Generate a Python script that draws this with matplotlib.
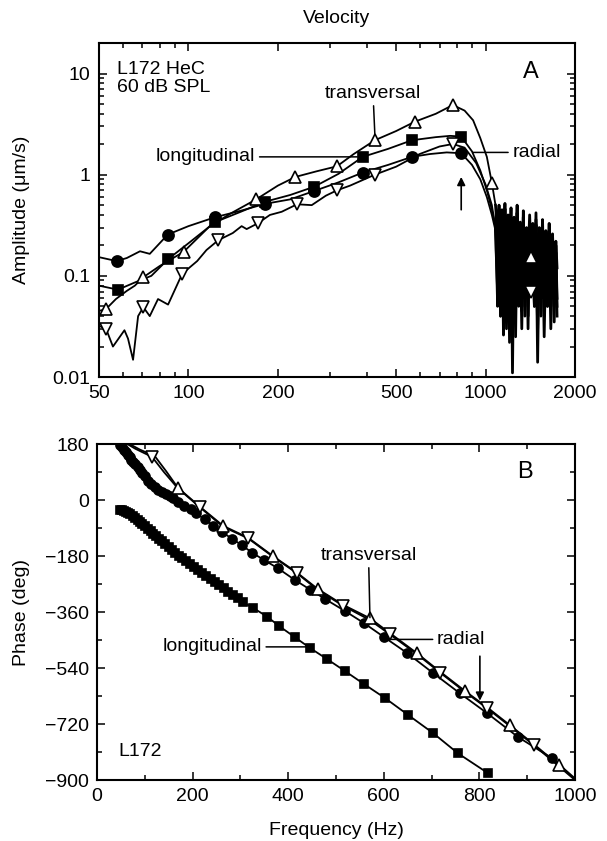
import numpy as np
import matplotlib
matplotlib.use("Agg")
import matplotlib.pyplot as plt
from matplotlib.ticker import FixedLocator, NullFormatter, LogLocator, MultipleLocator

plt.rcParams['font.family'] = ['Liberation Sans', 'DejaVu Sans']
plt.rcParams['font.size'] = 14

# ---------------- panel A: amplitude (log-log) ----------------
# filled circles
circ_f = [50, 57.3, 62, 68.7, 74.1, 85.2, 100, 123, 150, 181, 220, 265, 320, 386,
          470, 565, 650, 740, 828, 900, 960, 1010, 1050, 1080]
circ_a = [0.153, 0.140, 0.150, 0.175, 0.165, 0.256, 0.31, 0.38, 0.44, 0.515, 0.57,
          0.69, 0.84, 1.05, 1.25, 1.5, 1.6, 1.66, 1.63, 1.25, 0.9, 0.6, 0.4, 0.28]
circ_mf = [57.3, 85.2, 123, 181, 265, 386, 565, 828]
circ_ma = [0.140, 0.256, 0.38, 0.515, 0.69, 1.05, 1.5, 1.63]

# filled squares (longitudinal)
sq_f = [50, 57.9, 66, 75, 85.6, 100, 123, 150, 181, 220, 265, 320, 386, 470, 565,
        680, 760, 828, 900, 960, 1010, 1050, 1080]
sq_a = [0.080, 0.073, 0.086, 0.10, 0.147, 0.21, 0.34, 0.43, 0.54, 0.63, 0.76, 1.02,
        1.5, 1.8, 2.19, 2.35, 2.42, 2.38, 1.7, 1.1, 0.7, 0.45, 0.3]
sq_mf = [57.9, 85.6, 123, 181, 265, 386, 565, 828]
sq_ma = [0.073, 0.147, 0.34, 0.54, 0.76, 1.5, 2.19, 2.38]

# open up-triangles (transversal)
tu_f = [50, 52.8, 57, 62, 66, 70.5, 80, 96.4, 118, 140, 169, 200, 229, 270, 316,
        360, 424, 500, 578, 680, 776, 850, 908, 960, 1010, 1050, 1080]
tu_a = [0.045, 0.047, 0.059, 0.071, 0.080, 0.097, 0.125, 0.173, 0.31, 0.42, 0.57,
        0.78, 0.95, 1.08, 1.21, 1.6, 2.19, 2.7, 3.34, 4.0, 4.88, 4.3, 3.45, 2.3,
        1.5, 0.83, 0.5]
tu_mf = [52.8, 70.5, 96.4, 169, 229, 316, 424, 578, 776, 1050, 1424]
tu_ma = [0.047, 0.097, 0.173, 0.57, 0.95, 1.21, 2.19, 3.34, 4.88, 0.83, 0.155]

# open down-triangles (radial)
td_f = [50, 52.8, 55.7, 60.9, 62.6, 65.1, 67.7, 70.5, 74.1, 79, 85.4, 95.3, 107,
        115, 126, 141, 151, 157, 171, 188, 206, 232, 260, 290, 316, 350, 424, 500,
        600, 700, 776, 850, 930, 1000, 1050, 1080]
td_a = [0.032, 0.030, 0.020, 0.029, 0.024, 0.0148, 0.040, 0.049, 0.040, 0.059,
        0.052, 0.105, 0.14, 0.18, 0.225, 0.265, 0.31, 0.29, 0.33, 0.40, 0.43, 0.51,
        0.50, 0.62, 0.70, 0.78, 1.0, 1.2, 1.6, 1.9, 2.01, 1.85, 1.3, 0.8, 0.5, 0.3]
td_mf = [52.8, 70.5, 95.3, 126, 171, 232, 316, 424, 776, 1424]
td_ma = [0.030, 0.049, 0.105, 0.225, 0.33, 0.51, 0.70, 1.0, 2.01, 0.069]

# noisy tail above ~1 kHz (shared frequencies)
noise_f = [1080, 1085, 1098, 1110, 1123, 1136, 1149, 1162, 1176, 1190, 1204, 1218,
           1232, 1247, 1262, 1277, 1292, 1308, 1324, 1340, 1356, 1373, 1390, 1407,
           1424, 1442, 1460, 1478, 1497, 1516, 1535, 1555, 1575, 1595, 1616, 1637,
           1658, 1680, 1702, 1724, 1740]
noise_tu = [0.5, 0.42, 0.09, 0.50, 0.06, 0.45, 0.13, 0.52, 0.05, 0.40, 0.10, 0.47,
            0.035, 0.38, 0.12, 0.50, 0.06, 0.34, 0.09, 0.44, 0.05, 0.30, 0.14, 0.40,
            0.155, 0.33, 0.07, 0.42, 0.045, 0.30, 0.11, 0.36, 0.06, 0.28, 0.10,
            0.33, 0.05, 0.26, 0.09, 0.22, 0.12]
noise_sq = [0.3, 0.30, 0.16, 0.40, 0.04, 0.33, 0.08, 0.46, 0.11, 0.28, 0.022, 0.36,
            0.09, 0.31, 0.05, 0.42, 0.10, 0.27, 0.045, 0.38, 0.08, 0.29, 0.03, 0.34,
            0.12, 0.25, 0.06, 0.36, 0.09, 0.24, 0.04, 0.30, 0.08, 0.24, 0.05, 0.28,
            0.07, 0.22, 0.035, 0.20, 0.06]
noise_ci = [0.28, 0.22, 0.05, 0.36, 0.10, 0.30, 0.026, 0.40, 0.08, 0.25, 0.06, 0.33,
            0.011, 0.28, 0.09, 0.38, 0.05, 0.22, 0.08, 0.34, 0.04, 0.26, 0.10, 0.30,
            0.07, 0.20, 0.05, 0.32, 0.014, 0.22, 0.07, 0.26, 0.04, 0.20, 0.08, 0.24,
            0.05, 0.18, 0.09, 0.17, 0.05]
noise_td = [0.3, 0.18, 0.07, 0.30, 0.04, 0.25, 0.09, 0.34, 0.03, 0.22, 0.06, 0.29,
            0.05, 0.24, 0.025, 0.31, 0.07, 0.20, 0.03, 0.27, 0.06, 0.21, 0.04, 0.26,
            0.069, 0.19, 0.05, 0.24, 0.03, 0.18, 0.06, 0.22, 0.025, 0.17, 0.05,
            0.20, 0.03, 0.15, 0.06, 0.14, 0.04]

# ---------------- panel B: phase (linear) ----------------
bci_f = [48, 52, 56, 60, 64, 68, 72, 76, 80, 85, 90, 95, 100, 107, 114, 121, 128,
         136, 144, 152, 160, 170, 183, 196, 208, 225, 243, 261, 282, 303, 325, 350,
         379, 414, 446, 477, 519, 559, 600, 649, 703, 759, 816, 881, 952, 1000]
bci_p = [177, 170, 162, 154, 146, 138, 130, 123, 116, 106, 96, 87, 76, 62, 51, 41,
         33, 25, 18, 12, 5, -5, -18, -30, -43, -62, -82, -102, -124, -145, -170,
         -193, -220, -257, -288, -318, -357, -396, -440, -492, -556, -621, -685,
         -762, -830, -895]

bsq_f = [48, 52, 56, 60, 65, 70, 75, 80, 85, 90, 95, 100, 106, 112, 118, 124, 130,
         136, 143, 150, 157, 164, 171, 178, 186, 194, 202, 211, 220, 229, 238, 247,
         256, 265, 275, 285, 295, 305, 326, 356, 381, 414, 446, 481, 519, 559, 603,
         651, 703, 755, 818]
bsq_p = [-32, -33, -35, -37, -41, -46, -52, -58, -65, -71, -78, -84, -92, -100,
         -108, -116, -125, -133, -142, -152, -161, -171, -179, -187, -196, -205,
         -214, -224, -234, -243, -253, -262, -272, -283, -294, -305, -316, -328,
         -346, -375, -405, -441, -476, -511, -550, -592, -637, -691, -749, -814,
         -878]

btu_f = [62, 90, 121, 145, 169, 215, 264, 316, 368, 418, 462, 515, 571, 613, 669,
         718, 770, 815, 864, 914, 967, 1000]
btu_p = [185, 162, 141, 92, 40, -21, -83, -121, -180, -233, -286, -337, -380, -428,
         -492, -552, -614, -665, -724, -785, -853, -898]
btu_mf = [169, 264, 368, 462, 571, 669, 770, 864, 967]
btu_mp = [40, -83, -180, -286, -380, -492, -614, -724, -853]

btd_f = [58, 80, 100, 115, 140, 169, 215, 264, 316, 368, 418, 462, 515, 571, 613,
         669, 718, 770, 815, 864, 914, 967, 1000]
btd_p = [185, 165, 150, 139, 90, 38, -23, -86, -123, -182, -235, -289, -340, -386,
         -432, -495, -555, -617, -668, -727, -788, -857, -900]
btd_mf = [115, 215, 316, 418, 515, 613, 718, 815, 914]
btd_mp = [139, -23, -123, -235, -340, -432, -555, -668, -788]

fig = plt.figure(figsize=(6.07, 8.41), dpi=100)
axA = fig.add_axes([0.1631, 0.5517, 0.7842, 0.3971])
axB = fig.add_axes([0.1598, 0.0725, 0.7875, 0.3995])

LW = 1.3
mk = dict(color='k', lw=0, mec='k', mew=1.2)

# panel A curves: smooth part, then the noisy tail drawn heavier
for f, a, nz in ((circ_f, circ_a, noise_ci), (sq_f, sq_a, noise_sq),
                 (tu_f, tu_a, noise_tu), (td_f, td_a, noise_td)):
    axA.plot(f, a, 'k-', lw=LW)
    axA.plot(noise_f, nz, 'k-', lw=2.0)
axA.plot(circ_mf, circ_ma, 'o', ms=8, mfc='k', **mk)
axA.plot(sq_mf, sq_ma, 's', ms=7, mfc='k', **mk)
axA.plot(tu_mf, tu_ma, '^', ms=8, mfc='white', **mk)
axA.plot(td_mf, td_ma, 'v', ms=8, mfc='white', **mk)

axA.set_xscale('log')
axA.set_yscale('log')
axA.set_xlim(50, 2000)
axA.set_ylim(0.01, 20)
axA.xaxis.set_major_locator(FixedLocator([50, 100, 200, 500, 1000, 2000]))
axA.xaxis.set_minor_locator(FixedLocator([60, 70, 80, 90, 300, 400, 600, 700, 800, 900]))
axA.set_xticklabels(['50', '100', '200', '500', '1000', '2000'])
axA.xaxis.set_minor_formatter(NullFormatter())
axA.yaxis.set_major_locator(FixedLocator([0.01, 0.1, 1, 10]))
axA.yaxis.set_minor_locator(LogLocator(base=10, subs=np.arange(2, 10)))
axA.set_yticklabels(['0.01', '0.1', '1', '10'])
axA.yaxis.set_minor_formatter(NullFormatter())
axA.set_ylabel('Amplitude (\u03bcm/s)')
axA.yaxis.set_label_coords(-0.145, 0.5)

axA.text(0.038, 0.945, 'L172 HeC\n60 dB SPL', transform=axA.transAxes,
         ha='left', va='top', linespacing=1.05)
axA.text(0.908, 0.914, 'A', transform=axA.transAxes, ha='center', va='center',
         fontsize=17)
ln = dict(arrowstyle='-', color='k', lw=1.1, shrinkA=1, shrinkB=0)
axA.annotate('longitudinal', xy=(370, 1.5), xytext=(168, 1.5), ha='right',
             va='center', arrowprops=ln)
axA.annotate('transversal', xy=(424, 2.5), xytext=(418, 6.4), ha='center',
             va='center', arrowprops=ln)
axA.annotate('radial', xy=(905, 1.66), xytext=(1230, 1.66), ha='left',
             va='center', arrowprops=ln)
axA.annotate('', xy=(828, 0.95), xytext=(828, 0.45),
             arrowprops=dict(arrowstyle='-|>', color='k', lw=1.2,
                             mutation_scale=12, shrinkA=0, shrinkB=0))

# panel B curves
axB.plot(bsq_f, bsq_p, 'k-', lw=LW)
axB.plot(bsq_f, bsq_p, 's', ms=6, mfc='k', **mk)
axB.plot(bci_f, bci_p, 'k-', lw=LW)
axB.plot(bci_f[:-1], bci_p[:-1], 'o', ms=6.5, mfc='k', **mk)
axB.plot(btu_f, btu_p, 'k-', lw=LW)
axB.plot(btd_f, btd_p, 'k-', lw=LW)
axB.plot(btu_mf, btu_mp, '^', ms=8, mfc='white', **mk)
axB.plot(btd_mf, btd_mp, 'v', ms=8, mfc='white', **mk)

axB.set_xlim(0, 1000)
axB.set_ylim(-900, 180)
axB.xaxis.set_major_locator(MultipleLocator(200))
axB.xaxis.set_minor_locator(MultipleLocator(100))
axB.yaxis.set_major_locator(MultipleLocator(180))
axB.yaxis.set_minor_locator(MultipleLocator(90))
axB.set_xlabel('Frequency (Hz)')
axB.set_ylabel('Phase (deg)')
axB.yaxis.set_label_coords(-0.14, 0.5)
axB.xaxis.set_label_coords(0.5, -0.125)

axB.text(0.895, 0.917, 'B', transform=axB.transAxes, ha='center', va='center',
         fontsize=17)
axB.text(0.044, 0.084, 'L172', transform=axB.transAxes, ha='left', va='center')
axB.annotate('transversal', xy=(571, -378), xytext=(568, -177), ha='center',
             va='center', arrowprops=ln)
axB.annotate('radial', xy=(612, -448), xytext=(711, -448), ha='left',
             va='center', arrowprops=ln)
axB.annotate('longitudinal', xy=(441, -472), xytext=(345, -472), ha='right',
             va='center', arrowprops=ln)
axB.annotate('', xy=(801, -645), xytext=(801, -502),
             arrowprops=dict(arrowstyle='-|>', color='k', lw=1.2,
                             mutation_scale=12, shrinkA=0, shrinkB=0))

for ax in (axA, axB):
    for s in ax.spines.values():
        s.set_linewidth(1.5)
    ax.tick_params(which='both', direction='in', top=True, right=True, width=1.1,
                   labelsize=14, pad=6)
    ax.tick_params(which='major', length=6)
    ax.tick_params(which='minor', length=3.5)

fig.text(0.555, 0.978, 'Velocity', ha='center', va='center', fontsize=14)

fig.savefig('out.png', dpi=100, facecolor='white')
